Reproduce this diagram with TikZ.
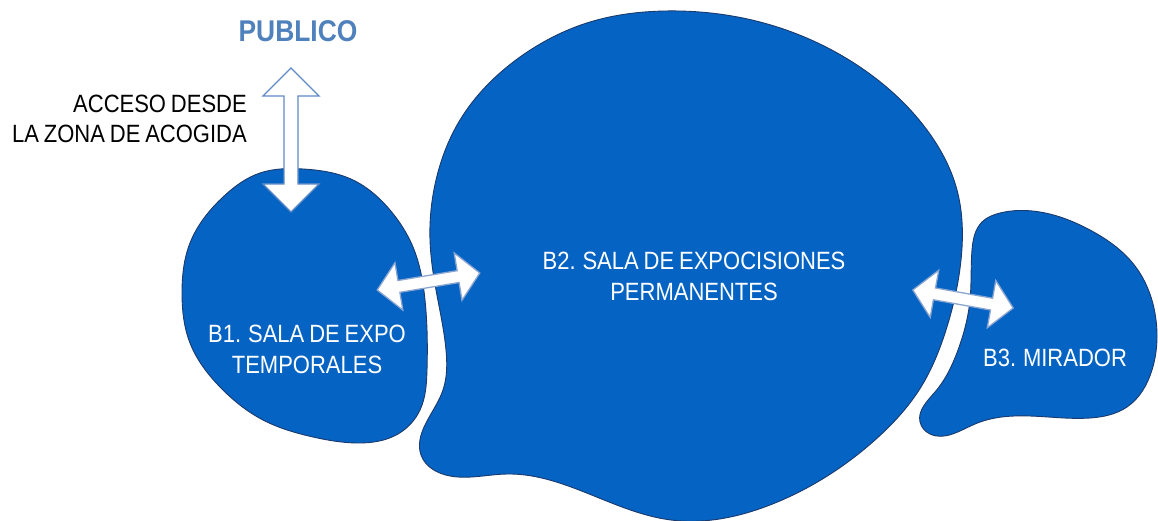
\documentclass[tikz,border=0pt]{standalone}
\usepackage{fontspec}
\setmainfont[FakeStretch=0.88,WordSpace=0.8]{Liberation Sans}
\usetikzlibrary{hobby}
\definecolor{blobblue}{HTML}{0563C4}
\definecolor{blobedge}{HTML}{1B3A6B}
\definecolor{pubblue}{HTML}{4F81BD}
\definecolor{arrowedge}{HTML}{5F8AC4}
\definecolor{arrowedgeb}{HTML}{8AA5CF}
\tikzset{
  blob/.style={fill=blobblue, draw=blobedge, line width=0.9pt, use Hobby shortcut, closed=true},
  blockarrow/.style={fill=white, draw=arrowedge, line width=1.3pt, line join=miter},
  blockarrowb/.style={fill=white, draw=arrowedgeb, line width=1.3pt, line join=miter},
  whitelabel/.style={text=white, inner sep=0pt, align=center, font=\fontsize{25}{31}\selectfont},
}
\begin{document}
\begin{tikzpicture}[x=1pt,y=-1pt]
\useasboundingbox (0,0) rectangle (1158,521);
% B2 blob
\draw[blob] (665,11) .. (760,22) .. (860,67) .. (927,130) .. (957,190) .. (961,260)
 .. (946,330) .. (921,387) .. (875,440) .. (775,503) .. (671,520) .. (579,490)
 .. (507,474) .. (450,476) .. (421,455) .. (425,425) .. (443,390) .. (446,350)
 .. (436,290) .. (430,240) .. (436,180) .. (460,120) .. (520,57) .. (590,22);
% B1 blob
\draw[blob] (303,169) .. (353,180) .. (390,210) .. (413,247) .. (425,300) .. (427,370)
 .. (420,410) .. (398,434) .. (357,443) .. (313,437) .. (263,420) .. (220,387)
 .. (190,343) .. (182,293) .. (190,243) .. (223,197) .. (260,173);
% B3 blob
\draw[blob] (1000,213) .. (1040,212) .. (1090,230) .. (1135,266) .. (1156,320)
 .. (1152,370) .. (1127,407) .. (1090,418) .. (1030,416) .. (975,424) .. (930,434)
 .. (920,422) .. (935,392) .. (958,350) .. (970,300) .. (972,250) .. (982,222);
% vertical access arrow
\draw[blockarrow, shift={(291,140)}]
 (0,-72) -- (28,-44) -- (7,-44) -- (7,44) -- (28,44) -- (0,72) -- (-28,44) -- (-7,44)
 -- (-7,-44) -- (-28,-44) -- cycle;
% B1 <-> B2 arrow
\draw[blockarrowb, shift={(428.5,281.5)}, rotate=9.4]
 (-52,0) -- (-30,-24) -- (-30,-6) -- (30,-6) -- (30,-24) -- (52,0) -- (30,24) -- (30,6)
 -- (-30,6) -- (-30,24) -- cycle;
% B2 <-> B3 arrow
\draw[blockarrowb, shift={(963,299)}, rotate=-10.2]
 (-51,0) -- (-29,-24) -- (-29,-6) -- (29,-6) -- (29,-24) -- (51,0) -- (29,24) -- (29,6)
 -- (-29,6) -- (-29,24) -- cycle;
% texts
\node[inner sep=0pt, text=pubblue, font=\fontsize{30}{36}\selectfont\bfseries] (pub) at (298,31) {PUBLICO};
\node[inner sep=0pt, anchor=east, align=right, font=\fontsize{25}{30}\selectfont] (acc) at (247,119) {ACCESO DESDE\\LA ZONA DE ACOGIDA};
\node[whitelabel] (b1) at (307,349) {B1. SALA DE EXPO\\TEMPORALES};
\node[whitelabel] (b2) at (694,276) {B2. SALA DE EXPOCISIONES\\PERMANENTES};
\node[whitelabel] (b3) at (1055,358) {B3. MIRADOR};
\end{tikzpicture}
\end{document}
